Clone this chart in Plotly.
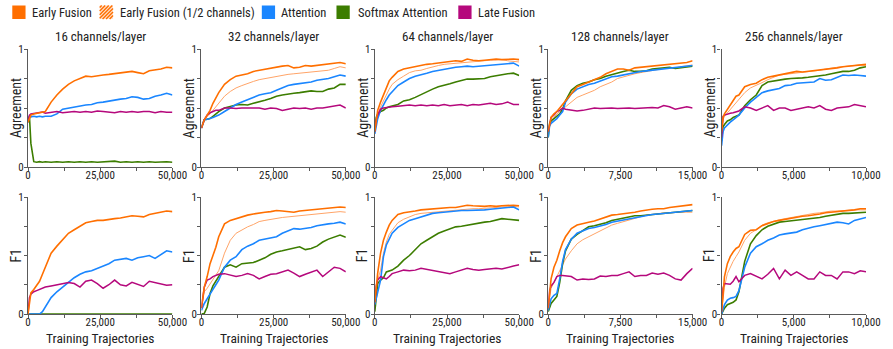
import plotly.graph_objects as go

# ---------------------------------------------------------------- data
# x grids (training trajectories) for the three run lengths
X50 = [0, 500, 1000, 2000, 3000, 4000, 5000, 6000, 8000, 10000, 12000, 14000, 16000, 18000, 20000,
       22000, 24000, 26000, 28000, 30000, 32000, 34000, 36000, 38000, 40000, 42000, 44000, 46000, 48000, 50000]
X15 = [0, 150, 300, 600, 900, 1200, 1500, 1800, 2400, 3000, 3600, 4200, 4800, 5400, 6000,
       6600, 7200, 7800, 8400, 9000, 9600, 10200, 10800, 11400, 12000, 12600, 13200, 13800, 14400, 15000]
X10 = [0, 100, 200, 400, 600, 800, 1000, 1200, 1600, 2000, 2400, 2800, 3200, 3600, 4000,
       4400, 4800, 5200, 5600, 6000, 6400, 6800, 7200, 7600, 8000, 8400, 8800, 9200, 9600, 10000]

panel_titles = ["16 channels/layer", "32 channels/layer", "64 channels/layer",
                "128 channels/layer", "256 channels/layer"]
x_max = [50000, 50000, 50000, 15000, 10000]
x_tick_labels = [["0", "", "25,000", "", "50,000"]] * 3 + [["0", "", "7,500", "", "15,000"],
                                                         ["0", "", "5,000", "", "10,000"]]
y_tick_labels = ["0", "", "", "", "1"]

series_names = ["Early Fusion", "Early Fusion (1/2 channels)", "Attention", "Softmax Attention", "Late Fusion"]

# ---- Agreement
agr16_early = [.38, .42, .44, .45, .455, .46, .46, .47, .55, .61, .66, .70, .73, .75, .77, .765, .775, .78, .785, .79,
               .795, .80, .81, .80, .79, .815, .82, .83, .845, .84]
agr16_attn = [.38, .43, .425, .43, .425, .43, .425, .43, .43, .45, .49, .50, .51, .52, .525, .53, .545, .55, .56, .57,
              .575, .58, .595, .59, .575, .58, .60, .61, .625, .61]
agr16_soft = [.38, .43, .20, .045, .04, .045, .04, .045, .04, .045, .04, .045, .04, .045, .04, .045, .04, .045, .045,
              .05, .04, .045, .04, .045, .04, .045, .04, .045, .045, .04]
agr16_late = [.38, .44, .45, .455, .46, .46, .465, .455, .465, .47, .46, .465, .47, .465, .47, .465, .475, .47, .465,
              .46, .47, .465, .47, .465, .47, .47, .46, .47, .465, .465]

agr32_early = [.33, .37, .40, .44, .48, .54, .59, .63, .70, .74, .77, .78, .79, .81, .82, .83, .84, .845, .855, .86,
               .84, .845, .86, .855, .86, .865, .87, .875, .885, .875]
agr32_half = [.33, .37, .40, .43, .45, .48, .51, .54, .60, .64, .67, .69, .71, .725, .74, .75, .76, .77, .775, .785,
              .79, .795, .80, .81, .81, .815, .82, .835, .85, .84]
agr32_attn = [.33, .37, .40, .405, .41, .42, .43, .44, .47, .50, .53, .55, .57, .59, .61, .62, .63, .65, .67, .69,
              .70, .705, .71, .72, .735, .74, .75, .765, .78, .77]
agr32_soft = [.33, .37, .40, .405, .41, .43, .45, .47, .50, .515, .525, .53, .525, .54, .55, .565, .58, .60, .61, .62,
              .625, .63, .64, .645, .64, .64, .66, .67, .70, .70]
agr32_late = [.33, .37, .40, .44, .46, .47, .48, .48, .50, .50, .495, .50, .50, .495, .50, .49, .50, .495, .48, .49,
              .50, .495, .50, .49, .50, .50, .51, .515, .525, .50]

agr64_early = [.30, .42, .48, .55, .61, .68, .73, .76, .81, .83, .84, .85, .865, .87, .875, .88, .885, .89, .90, .895,
               .915, .905, .90, .905, .91, .915, .91, .915, .915, .91]
agr64_half = [.30, .40, .45, .51, .56, .62, .66, .70, .74, .77, .80, .815, .82, .835, .85, .86, .87, .875, .88, .885,
              .89, .895, .90, .90, .905, .905, .91, .90, .895, .89]
agr64_attn = [.28, .36, .41, .48, .53, .57, .61, .64, .69, .72, .75, .77, .78, .795, .81, .82, .83, .84, .845, .85,
              .855, .85, .855, .855, .86, .865, .87, .875, .88, .855]
agr64_soft = [.30, .42, .45, .47, .48, .50, .51, .515, .53, .56, .57, .59, .615, .64, .66, .68, .69, .705, .72, .73,
              .745, .745, .75, .75, .765, .775, .785, .79, .795, .775]
agr64_late = [.30, .40, .44, .49, .50, .505, .51, .51, .515, .52, .525, .52, .525, .52, .525, .52, .53, .52, .525, .53,
              .52, .53, .525, .53, .54, .53, .535, .55, .53, .53]

agr128_early = [.30, .38, .42, .45, .47, .50, .53, .56, .63, .68, .70, .72, .74, .76, .79, .81, .83, .83, .82, .84,
                .845, .85, .855, .86, .865, .87, .87, .88, .885, .90]
agr128_half = [.30, .36, .39, .42, .45, .47, .49, .51, .55, .59, .61, .63, .65, .68, .70, .72, .75, .765, .78, .79,
               .80, .81, .82, .83, .835, .84, .84, .85, .855, .865]
agr128_attn = [.25, .35, .37, .39, .41, .44, .47, .55, .62, .66, .68, .70, .71, .73, .75, .765, .77, .78, .795, .80,
               .81, .815, .82, .83, .83, .835, .84, .845, .85, .86]
agr128_soft = [.25, .37, .39, .41, .425, .45, .49, .56, .65, .69, .71, .72, .74, .75, .77, .785, .80, .81, .82, .81,
               .81, .815, .83, .835, .84, .845, .835, .84, .845, .855]
agr128_late = [.30, .38, .42, .44, .47, .48, .50, .49, .48, .475, .48, .49, .50, .495, .50, .50, .495, .50, .50, .495,
               .50, .50, .505, .50, .52, .51, .49, .50, .51, .50]

agr256_early = [.30, .42, .45, .49, .52, .56, .60, .61, .68, .70, .71, .74, .76, .77, .78, .79, .80, .81, .805, .81,
                .815, .82, .83, .835, .84, .85, .855, .86, .865, .87]
agr256_half = [.30, .40, .43, .46, .48, .51, .54, .57, .63, .67, .69, .715, .74, .76, .78, .785, .79, .795, .80, .805,
               .81, .82, .83, .84, .845, .85, .855, .86, .865, .86]
agr256_attn = [.18, .30, .33, .36, .38, .40, .42, .44, .50, .55, .59, .63, .645, .655, .665, .69, .695, .71, .715, .72,
               .72, .75, .735, .74, .76, .78, .775, .78, .775, .77]
agr256_soft = [.22, .34, .36, .39, .40, .42, .43, .44, .52, .57, .61, .69, .72, .73, .74, .745, .75, .75, .755, .76,
               .765, .77, .78, .79, .80, .81, .81, .82, .84, .85]
agr256_late = [.25, .43, .44, .45, .455, .46, .47, .475, .51, .50, .48, .50, .52, .48, .50, .50, .48, .49, .50, .51,
               .50, .52, .49, .48, .50, .505, .51, .53, .52, .51]

# ---- F1
f1_16_early = [0, .12, .18, .21, .24, .28, .34, .40, .52, .58, .64, .69, .72, .75, .78, .79, .80, .80, .81, .815,
               .82, .83, .84, .835, .83, .85, .86, .87, .88, .875]
f1_16_attn = [0, 0, 0, 0, 0, 0, .02, .06, .14, .19, .23, .27, .31, .34, .36, .37, .39, .41, .43, .46,
              .47, .475, .46, .48, .49, .50, .475, .51, .54, .53]
f1_16_soft = [0] * 30
f1_16_late = [0, .14, .17, .19, .20, .21, .22, .23, .24, .25, .255, .27, .26, .23, .28, .29, .26, .22, .25, .29,
              .25, .24, .27, .25, .235, .28, .27, .26, .245, .25]

f1_32_early = [.05, .16, .23, .32, .43, .50, .57, .66, .77, .80, .815, .835, .845, .855, .865, .87, .875, .885, .88,
               .875, .87, .88, .885, .89, .895, .90, .905, .91, .915, .91]
f1_32_half = [.05, .13, .19, .22, .26, .30, .34, .37, .52, .63, .69, .72, .745, .765, .79, .80, .81, .815, .825, .83,
              .835, .84, .845, .85, .855, .86, .865, .87, .875, .87]
f1_32_attn = [.03, .06, .09, .13, .175, .21, .25, .29, .40, .46, .49, .55, .58, .60, .63, .64, .645, .66, .69, .71,
              .73, .725, .73, .74, .755, .765, .77, .775, .785, .77]
f1_32_soft = [0, 0, .005, .06, .175, .24, .28, .32, .40, .42, .40, .43, .435, .44, .46, .48, .51, .53, .54, .55,
              .56, .575, .55, .56, .58, .615, .64, .66, .675, .655]
f1_32_late = [.05, .16, .23, .29, .30, .32, .33, .34, .345, .33, .32, .33, .345, .33, .30, .32, .34, .345, .36, .375,
              .35, .32, .34, .36, .375, .32, .36, .40, .39, .36]

f1_64_early = [.10, .25, .35, .52, .63, .70, .76, .80, .85, .865, .87, .88, .89, .895, .90, .90, .905, .91, .91, .92,
               .93, .925, .92, .92, .925, .92, .925, .93, .93, .925]
f1_64_half = [.10, .22, .29, .375, .52, .615, .68, .715, .78, .81, .83, .85, .86, .865, .87, .875, .88, .885, .89,
              .895, .90, .90, .90, .905, .905, .91, .915, .915, .92, .915]
f1_64_attn = [.08, .14, .18, .29, .49, .59, .64, .69, .74, .77, .80, .815, .83, .845, .86, .865, .87, .88, .88, .885,
              .885, .885, .885, .89, .895, .90, .905, .91, .915, .89]
f1_64_soft = [.02, .18, .26, .29, .31, .36, .37, .375, .41, .46, .50, .55, .60, .63, .66, .69, .71, .73, .745, .75,
              .76, .765, .775, .785, .79, .80, .815, .81, .805, .80]
f1_64_late = [.10, .24, .29, .32, .31, .30, .32, .345, .36, .375, .37, .375, .39, .38, .37, .36, .35, .345, .36, .375,
              .39, .38, .375, .38, .385, .39, .385, .40, .41, .42]

f1_128_early = [.05, .20, .30, .40, .46, .54, .61, .66, .73, .76, .775, .785, .795, .81, .83, .845, .85, .855, .86,
                .87, .88, .89, .895, .90, .90, .91, .915, .92, .925, .935]
f1_128_half = [.05, .16, .22, .27, .32, .37, .43, .47, .54, .60, .635, .66, .685, .71, .735, .76, .775, .79, .80,
               .815, .83, .845, .85, .86, .865, .865, .87, .87, .87, .87]
f1_128_attn = [.03, .09, .13, .16, .175, .30, .45, .55, .64, .69, .71, .73, .74, .75, .765, .785, .795, .80, .815,
               .825, .835, .845, .85, .855, .86, .865, .87, .875, .88, .885]
f1_128_soft = [.02, .06, .09, .12, .15, .27, .43, .54, .64, .68, .71, .745, .755, .765, .78, .80, .81, .82, .835, .84,
               .84, .845, .85, .855, .86, .865, .87, .875, .88, .885]
f1_128_late = [.05, .20, .24, .27, .32, .33, .33, .325, .32, .29, .30, .295, .30, .325, .32, .33, .33, .345, .36, .32,
               .33, .33, .35, .34, .35, .33, .30, .29, .345, .39]

f1_256_early = [.02, .20, .32, .43, .49, .53, .56, .575, .68, .715, .72, .755, .775, .79, .80, .81, .82, .83, .835,
                .84, .845, .855, .865, .87, .87, .875, .88, .89, .90, .90]
f1_256_half = [.02, .15, .23, .345, .40, .45, .49, .53, .63, .69, .72, .76, .78, .795, .805, .815, .825, .835, .845,
               .855, .86, .865, .875, .88, .88, .885, .885, .89, .89, .89]
f1_256_attn = [0, .04, .08, .12, .135, .14, .15, .20, .40, .52, .575, .60, .63, .65, .675, .685, .695, .70, .72, .735,
               .745, .755, .765, .775, .785, .78, .77, .80, .815, .825]
f1_256_soft = [0, .03, .05, .08, .09, .10, .12, .19, .45, .60, .67, .72, .75, .77, .785, .79, .795, .80, .81, .81,
               .815, .825, .835, .845, .85, .86, .86, .865, .87, .87]
f1_256_late = [.02, .22, .26, .26, .255, .28, .32, .275, .33, .345, .32, .30, .34, .39, .30, .375, .33, .36, .33, .30,
               .30, .36, .33, .33, .30, .36, .36, .345, .37, .36]

# ---------------------------------------------------------------- styling
ORANGE = "#ff6f00"
HALF = "#ffa468"
BLUE = "#1a86ff"
GREEN = "#3c7d00"
MAGENTA = "#b5087c"
AXIS = "#5a5a5a"
TEXT = "#222222"
FONT = "Roboto Condensed, Liberation Sans Narrow, DejaVu Sans Condensed, Roboto, sans-serif"

# (x grid, agreement curves, f1 curves) per column; None where a curve is absent
columns = [
    (X50, [agr16_early, None, agr16_attn, agr16_soft, agr16_late],
     [f1_16_early, None, f1_16_attn, f1_16_soft, f1_16_late]),
    (X50, [agr32_early, agr32_half, agr32_attn, agr32_soft, agr32_late],
     [f1_32_early, f1_32_half, f1_32_attn, f1_32_soft, f1_32_late]),
    (X50, [agr64_early, agr64_half, agr64_attn, agr64_soft, agr64_late],
     [f1_64_early, f1_64_half, f1_64_attn, f1_64_soft, f1_64_late]),
    (X15, [agr128_early, agr128_half, agr128_attn, agr128_soft, agr128_late],
     [f1_128_early, f1_128_half, f1_128_attn, f1_128_soft, f1_128_late]),
    (X10, [agr256_early, agr256_half, agr256_attn, agr256_soft, agr256_late],
     [f1_256_early, f1_256_half, f1_256_attn, f1_256_soft, f1_256_late]),
]
colors = [ORANGE, HALF, BLUE, GREEN, MAGENTA]
widths = [1.6, 1.0, 1.6, 1.6, 1.5]
draw_order = [1, 3, 2, 4, 0]

# ---------------------------------------------------------------- layout geometry (pixels)
W, H = 893, 349
ML, MR, MT, MB = 28, 12, 49, 35
PW, PH = W - ML - MR, H - MT - MB
COL_STEP, COL_W = 176.5, 147
ROW_TOP = [(0, 118), (148, 117)]   # (offset from top of plot area, height)


def px_x(p):
    return (p - ML) / PW


def px_y(p):
    return (H - MB - p) / PH


fig = go.Figure()
layout = dict(
    width=W, height=H, margin=dict(l=ML, r=MR, t=MT, b=MB),
    plot_bgcolor="white", paper_bgcolor="white", showlegend=False,
    font=dict(family=FONT, color=TEXT, size=11),
)
annotations = []
shapes = []

for r in range(2):
    top, hgt = ROW_TOP[r]
    y0 = px_y(MT + top + hgt)
    y1 = px_y(MT + top)
    for c in range(5):
        idx = r * 5 + c + 1
        xa = "x" if idx == 1 else f"x{idx}"
        ya = "y" if idx == 1 else f"y{idx}"
        xl0 = ML + COL_STEP * c
        xd = [px_x(xl0), px_x(xl0 + COL_W)]
        xm = x_max[c]
        layout["xaxis" if idx == 1 else f"xaxis{idx}"] = dict(
            domain=xd, anchor=ya, range=[0, xm],
            tickvals=[0, xm / 4, xm / 2, 3 * xm / 4, xm], ticktext=x_tick_labels[c],
            showgrid=False, zeroline=False, showline=True, linecolor=AXIS, linewidth=1.3,
            ticks="outside", ticklen=3, tickwidth=1, tickcolor=AXIS, ticklabelstandoff=-5,
            tickfont=dict(size=11, color=TEXT, family=FONT), fixedrange=True,
        )
        layout["yaxis" if idx == 1 else f"yaxis{idx}"] = dict(
            domain=[y0, y1], anchor=xa, range=[0, 1],
            tickvals=[0, 0.25, 0.5, 0.75, 1], ticktext=y_tick_labels,
            showgrid=False, zeroline=False, showline=True, linecolor=AXIS, linewidth=1.3,
            ticks="outside", ticklen=3, tickwidth=1, tickcolor=AXIS, ticklabelstandoff=-2,
            tickfont=dict(size=11, color=TEXT, family=FONT), fixedrange=True,
        )
        xs, agr, f1 = columns[c]
        curves = agr if r == 0 else f1
        for k in draw_order:
            ys = curves[k]
            if ys is None:
                continue
            fig.add_trace(go.Scatter(
                x=xs, y=ys, mode="lines", name=series_names[k], xaxis=xa, yaxis=ya,
                line=dict(color=colors[k], width=widths[k], shape="linear"),
                hoverinfo="skip",
            ))
        # y axis title
        annotations.append(dict(
            text="Agreement" if r == 0 else "F1", xref="paper", yref="paper",
            x=xd[0], y=(y0 + y1) / 2, xanchor="center", yanchor="middle", xshift=-12,
            textangle=-90, showarrow=False, font=dict(size=14, color=TEXT, family=FONT),
        ))
        if r == 0:
            annotations.append(dict(
                text=panel_titles[c], xref="paper", yref="paper",
                x=(xd[0] + xd[1]) / 2, y=y1, xanchor="center", yanchor="bottom", yshift=3,
                showarrow=False, font=dict(size=13, color=TEXT, family=FONT),
            ))
        else:
            annotations.append(dict(
                text="Training Trajectories", xref="paper", yref="paper",
                x=(xd[0] + xd[1]) / 2, y=y0, xanchor="center", yanchor="middle", yshift=-24,
                showarrow=False, font=dict(size=13.5, color=TEXT, family=FONT),
            ))

# ---------------------------------------------------------------- legend (drawn)
legend_items = [
    (12, 30, ORANGE, False), (101, 120, ORANGE, True), (266, 284, BLUE, False),
    (342, 362, GREEN, False), (466, 484, MAGENTA, False),
]
SQ_T, SQ_B = 5.5, 19
for (sx, tx, col, hatched), label in zip(legend_items, series_names):
    x0, x1 = sx, sx + 13.5
    if hatched:
        shapes.append(dict(type="rect", xref="paper", yref="paper",
                           x0=px_x(x0), x1=px_x(x1), y0=px_y(SQ_B), y1=px_y(SQ_T),
                           fillcolor="#ffe3cf", line=dict(width=0)))
        cval = x0 + SQ_T + 2
        while cval < x1 + SQ_B:
            xa0 = max(x0, cval - SQ_B)
            xa1 = min(x1, cval - SQ_T)
            if xa1 > xa0:
                shapes.append(dict(type="line", xref="paper", yref="paper",
                                   x0=px_x(xa0), y0=px_y(cval - xa0),
                                   x1=px_x(xa1), y1=px_y(cval - xa1),
                                   line=dict(color=col, width=1.4)))
            cval += 3.6
    else:
        shapes.append(dict(type="rect", xref="paper", yref="paper",
                           x0=px_x(x0), x1=px_x(x1), y0=px_y(SQ_B), y1=px_y(SQ_T),
                           fillcolor=col, line=dict(width=0)))
    annotations.append(dict(
        text=label, xref="paper", yref="paper", x=px_x(tx), y=px_y((SQ_T + SQ_B) / 2),
        xanchor="left", yanchor="middle", showarrow=False,
        font=dict(size=12.5, color=TEXT, family=FONT),
    ))

layout["annotations"] = annotations
layout["shapes"] = shapes
fig.update_layout(**layout)
fig.write_html("out.html")
